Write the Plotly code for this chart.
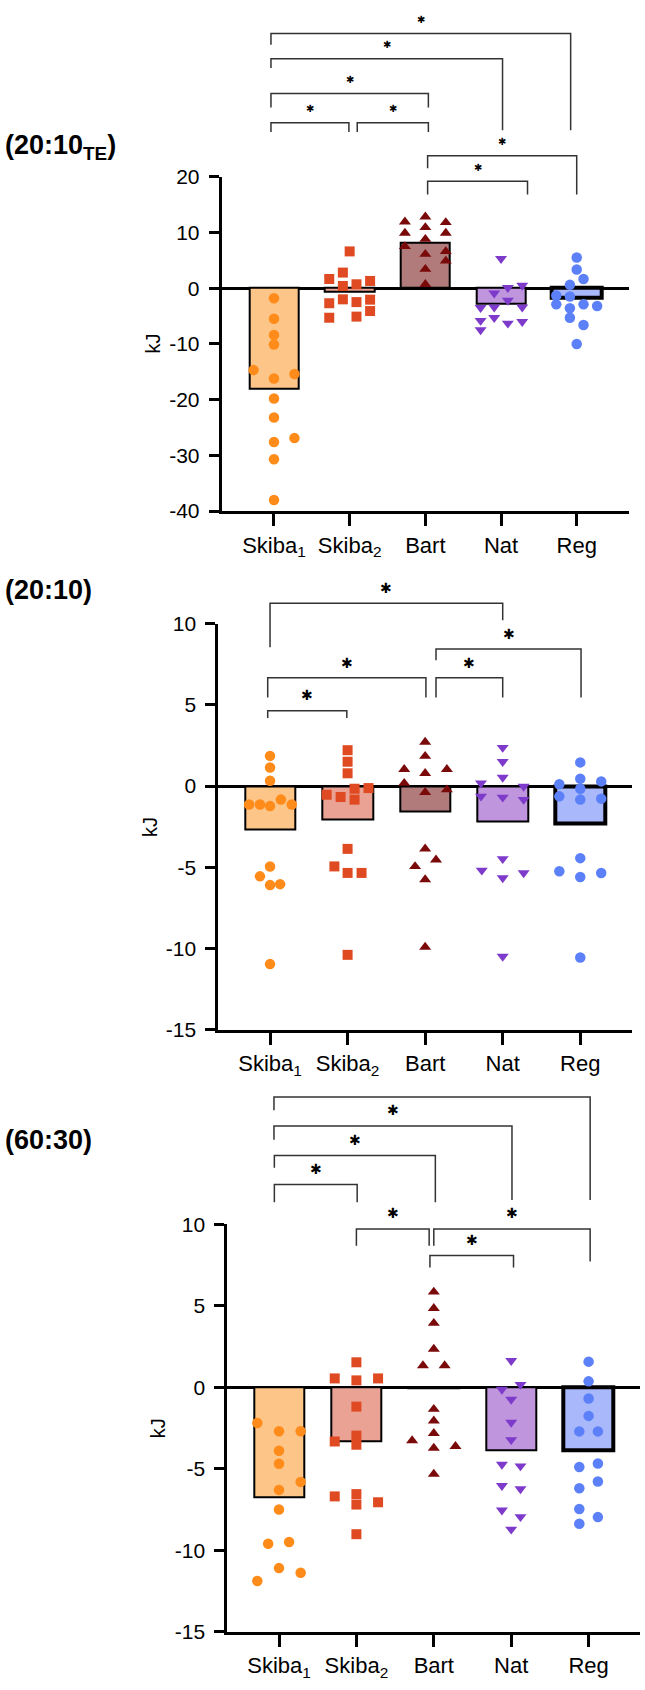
import plotly.graph_objects as go

# ---------------- data ----------------
groups = ["Skiba1", "Skiba2", "Bart", "Nat", "Reg"]
tick_labels = ["Skiba<sub>1</sub>", "Skiba<sub>2</sub>", "Bart", "Nat", "Reg"]
panel_titles = ["<b>(20:10<sub>TE</sub>)</b>", "<b>(20:10)</b>", "<b>(60:30)</b>"]
y_title = "kJ"

# Panel A (20:10 TE)
a_means = [-18.0, -0.6, 8.1, -2.8, -1.7]
a_skiba1 = [-1.8, -5.5, -8.4, -10.1, -14.7, -15.4, -16.2, -19.8, -23.2, -26.9, -27.6, -30.7, -38.0]
a_skiba2 = [6.6, 2.8, 1.65, 1.3, 0.4, 0.7, -2.0, -2.5, -2.7, -2.06, -4.1, -5.3, -5.1]
a_bart = [11.9, 12.8, 11.8, 9.9, 10.9, 9.9, 7.5, 8.8, 6.1, 6.6, 4.9, 3.4, 0.7]
a_nat = [5.3, -0.9, 0.1, 0.5, -2.2, -3.5, -3.4, -3.4, -5.3, -5.8, -6.3, -6.0, -7.5]
a_reg = [5.5, 3.35, 1.65, 0.6, -1.3, -1.5, -2.9, -2.9, -3.2, -3.6, -5.3, -6.6, -10.0]
a_yticks = [-40, -30, -20, -10, 0, 10, 20]

# Panel B (20:10)
b_means = [-2.65, -2.04, -1.58, -2.19, -2.28]
b_skiba1 = [1.86, 1.15, 0.33, -0.83, -1.13, -1.13, -1.23, -1.13, -4.94, -5.55, -6.09, -6.03, -10.95]
b_skiba2 = [2.21, 1.5, 0.79, -0.16, -0.12, -0.53, -0.67, -0.83, -3.86, -4.94, -5.34, -5.34, -10.38]
b_bart = [2.71, 1.84, 1.03, 0.79, 1.03, 0.18, -0.38, -0.22, -3.86, -4.94, -4.53, -5.75, -9.9]
b_nat = [2.37, 1.5, 0.53, 0.18, -0.02, -0.63, -0.69, -0.83, -4.47, -5.18, -5.65, -5.34, -10.48]
b_reg = [1.46, 0.45, 0.12, 0.29, -0.16, -0.63, -0.77, -0.83, -4.43, -5.24, -5.59, -5.34, -10.54]
b_yticks = [-15, -10, -5, 0, 5, 10]

# Panel C (60:30)
c_means = [-6.76, -3.33, -0.08, -3.87, -3.87]
c_skiba1 = [-2.2, -2.7, -2.7, -3.9, -4.7, -6.3, -5.81, -7.5, -9.6, -9.5, -11.1, -11.38, -11.89]
c_skiba2 = [1.53, 0.54, 0.42, 0.54, -1.19, -2.97, -3.33, -3.53, -6.7, -6.56, -7.2, -7.06, -9.02]
c_bart = [5.85, 4.84, 3.93, 2.34, 1.33, 1.33, -1.35, -2.06, -2.83, -3.27, -3.73, -3.63, -5.33]
c_nat = [1.63, -0.14, 0.16, -0.75, -2.16, -3.23, -4.74, -4.84, -6.04, -6.24, -7.55, -7.95, -8.72]
c_reg = [1.57, 0.36, -0.69, -1.76, -2.71, -2.71, -4.89, -4.68, -6.2, -5.79, -7.47, -7.97, -8.38]
c_yticks = [-15, -10, -5, 0, 5, 10]

# significant comparisons (pairs of group indices)
a_pairs = [(0, 4), (0, 3), (0, 2), (0, 1), (1, 2), (2, 4), (2, 3)]
b_pairs = [(0, 3), (2, 4), (0, 2), (2, 3), (0, 1)]
c_pairs = [(0, 4), (0, 3), (0, 2), (0, 1), (1, 2), (2, 4), (2, 3)]

# ---------------- layout / style ----------------
W, H = 645, 1690
bar_fill = ["#FDC587", "#E9A293", "#B17B7B", "#BF95DD", "#A8B8FA"]
dot_color = ["#FF8C1A", "#DF4A22", "#7A0A0A", "#7E3BCB", "#5B80F8"]
symbols = ["circle", "square", "triangle-up", "triangle-down", "circle"]
msize = [10.5, 10, 10.5, 10.5, 10.5]
bar_line_w = [2, 2, 2, 2, 4]

# horizontal scatter offsets (category units) for each dot
a_jit = [
    [0, 0, 0, 0, -0.27, 0.27, 0, 0, 0, 0.27, 0, 0, 0],
    [0, -0.09, -0.27, 0.27, -0.09, 0.09, -0.09, 0.09, -0.27, 0.27, 0.27, -0.27, 0.09],
    [-0.27, 0, 0.27, -0.27, 0, 0.27, -0.27, 0, 0, 0.27, 0.27, 0, 0],
    [0, -0.09, 0.09, 0.28, 0.09, -0.27, -0.09, 0.28, -0.09, -0.27, 0.09, 0.28, -0.27],
    [0, 0, 0.09, -0.09, -0.27, -0.09, -0.27, 0.09, 0.27, -0.09, -0.09, 0.09, 0],
]
b_jit = [
    [0, 0, 0, 0.14, -0.27, -0.13, 0, 0.28, 0, -0.13, 0, 0.13, 0],
    [0, 0, 0, 0.09, 0.27, -0.27, -0.09, 0.09, 0, -0.17, 0, 0.18, 0],
    [0, 0, -0.27, 0, 0.28, -0.27, 0, 0.28, 0, -0.13, 0.14, 0, 0],
    [0, 0, 0, -0.28, 0.27, -0.28, 0, 0.27, 0, -0.27, 0, 0.27, 0],
    [0, 0, -0.27, 0.27, 0, -0.27, 0.27, 0, 0, -0.27, 0, 0.27, 0],
]
c_jit = [
    [-0.28, 0, 0.28, 0, 0, 0, 0.28, 0, -0.14, 0.13, 0, 0.28, -0.28],
    [0, -0.28, 0, 0.28, 0, 0, -0.28, 0, -0.28, 0, 0, 0.28, 0],
    [0, 0, 0, 0, -0.14, 0.14, 0, 0, 0, -0.28, 0, 0.28, 0],
    [0, -0.12, 0.12, 0, 0, 0, -0.12, 0.12, -0.12, 0.12, -0.12, 0.12, 0],
    [0, 0, 0, 0, -0.12, 0.12, -0.12, 0.12, -0.12, 0.12, -0.12, 0.12, -0.12],
]

# bracket geometry: (left end offset, right end offset, bar y px, left leg end px, right leg end px, star)
a_brk = [(-0.04, -0.08, 21.7, 33.3, 120, True), (-0.04, 0.02, 47.3, 56.7, 120, True),
         (-0.04, 0.04, 82.7, 96.7, 96.7, True), (-0.04, -0.01, 112.3, 121.7, 121.7, True),
         (0.10, 0.04, 112.3, 121.7, 121.7, True), (0.03, 0.0, 145.7, 158.3, 185, True),
         (0.03, 0.35, 171.7, 185, 185, True)]
b_brk = [(0.0, 0.0, 599.3, 644, 616.7, True), (0.14, 0.01, 645.7, 657.3, 695, True),
         (-0.03, 0.01, 675, 695, 695, True), (0.14, 0.0, 675, 695, 695, True),
         (-0.03, -0.01, 708.3, 715.7, 715.7, True)]
c_brk = [(-0.065, 0.02, 1100, 1113.3, 1204.3, False), (-0.065, 0.01, 1129.3, 1143.3, 1204.3, True),
         (-0.06, 0.02, 1159.3, 1171.7, 1206.7, True), (-0.06, 0.01, 1188.7, 1206.7, 1206.7, True),
         (0.0, -0.06, 1233.7, 1250.7, 1250.7, True), (0.0, 0.02, 1233.7, 1250.7, 1266.7, True),
         (-0.05, 0.03, 1260.7, 1272.7, 1272.7, True)]

panels = [
    dict(means=a_means, vals=[a_skiba1, a_skiba2, a_bart, a_nat, a_reg], jit=a_jit, yticks=a_yticks,
         pairs=a_pairs, brk=a_brk, x0=221.7, x1=629.0, ytop=167, ybot=506, pad=0.691,
         title_y=137, star_dy=14, star_size=10),
    dict(means=b_means, vals=[b_skiba1, b_skiba2, b_bart, b_nat, b_reg], jit=b_jit, yticks=b_yticks,
         pairs=b_pairs, brk=b_brk, x0=218.3, x1=632.0, ytop=620, ybot=1032, pad=0.667,
         title_y=586, star_dy=15.5, star_size=14),
    dict(means=c_means, vals=[c_skiba1, c_skiba2, c_bart, c_nat, c_reg], jit=c_jit, yticks=c_yticks,
         pairs=c_pairs, brk=c_brk, x0=227.3, x1=640.3, ytop=1229, ybot=1642, pad=0.668,
         title_y=1144, star_dy=16, star_size=14),
]

font_main = "Liberation Sans, Arial, sans-serif"
fig = go.Figure()
shapes, annotations = [], []
layout_axes = {}

for k, p in enumerate(panels):
    sfx = "" if k == 0 else str(k + 1)
    xr, yr = "x" + sfx, "y" + sfx
    fig.add_trace(go.Bar(
        x=list(range(len(groups))), y=p["means"], width=0.65,
        marker=dict(color=bar_fill, line=dict(color="black", width=bar_line_w)),
        xaxis=xr, yaxis=yr, showlegend=False, hoverinfo="skip"))
    for g in range(len(groups)):
        fig.add_trace(go.Scatter(
            x=[g + j for j in p["jit"][g]], y=p["vals"][g], mode="markers",
            marker=dict(symbol=symbols[g], color=dot_color[g], size=msize[g], line=dict(width=0)),
            xaxis=xr, yaxis=yr, showlegend=False, cliponaxis=False, name=groups[g]))

    lo, hi = -p["pad"], len(groups) - 1 + p["pad"]
    layout_axes["xaxis" + sfx] = dict(
        domain=[p["x0"] / W, p["x1"] / W], range=[lo, hi], anchor=yr,
        showline=True, linecolor="black", linewidth=3, ticks="outside", ticklen=12,
        tickwidth=3, tickcolor="black", tickvals=list(range(len(groups))), ticktext=tick_labels,
        tickfont=dict(family=font_main, size=22, color="black"), showgrid=False, zeroline=False)
    yt = p["yticks"]
    layout_axes["yaxis" + sfx] = dict(
        domain=[1 - p["ybot"] / H, 1 - p["ytop"] / H], range=[yt[0], yt[-1]], anchor=xr,
        showline=True, linecolor="black", linewidth=3, ticks="outside", ticklen=10,
        tickwidth=3, tickcolor="black", tickvals=yt, ticktext=[str(v) for v in yt],
        tickfont=dict(family=font_main, size=21, color="black"), showgrid=False,
        zeroline=True, zerolinecolor="black", zerolinewidth=3, ticklabelstandoff=5)

    def cat_px(c, p=p, lo=lo, hi=hi):
        return p["x0"] + (c - lo) * (p["x1"] - p["x0"]) / (hi - lo)

    for (i, j), (dl, dr, yh, yl, yrr, star) in zip(p["pairs"], p["brk"]):
        xl, xrr = cat_px(i + dl), cat_px(j + dr)
        path = "M {:.5f},{:.5f} L {:.5f},{:.5f} L {:.5f},{:.5f} L {:.5f},{:.5f}".format(
            xl / W, 1 - yl / H, xl / W, 1 - yh / H, xrr / W, 1 - yh / H, xrr / W, 1 - yrr / H)
        shapes.append(dict(type="path", path=path, xref="paper", yref="paper",
                           line=dict(color="#333333", width=1.5)))
        if star:
            annotations.append(dict(text="✱", x=(xl + xrr) / 2 / W, y=1 - (yh - p["star_dy"]) / H,
                                    xref="paper", yref="paper", showarrow=False,
                                    xanchor="center", yanchor="middle",
                                    font=dict(family="DejaVu Sans", size=p["star_size"], color="black")))

    annotations.append(dict(text=panel_titles[k], x=3 / W, y=1 - p["title_y"] / H, xref="paper",
                            yref="paper", showarrow=False, xanchor="left", yanchor="middle",
                            font=dict(family=font_main, size=27, color="black")))
    annotations.append(dict(text=y_title, x=(p["x0"] - 69) / W, y=1 - (p["ytop"] + p["ybot"]) / 2 / H,
                            xref="paper", yref="paper", showarrow=False, textangle=-90,
                            xanchor="center", yanchor="middle",
                            font=dict(family=font_main, size=20, color="black")))

fig.update_layout(
    width=W, height=H, margin=dict(l=0, r=0, t=0, b=0),
    paper_bgcolor="white", plot_bgcolor="white", showlegend=False,
    bargap=0, shapes=shapes, annotations=annotations, **layout_axes)

fig.write_html("out.html")
